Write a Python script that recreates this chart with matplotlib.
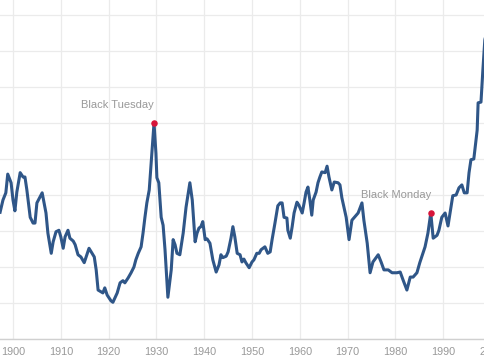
import matplotlib
matplotlib.use('Agg')
import matplotlib.pyplot as plt

# Shiller-style P/E ratio
years = [
    1897.3, 1897.9, 1898.5, 1898.9, 1899.6, 1900.0, 1900.4, 1900.8, 1901.5, 1902.1,
    1902.5, 1902.9, 1903.6, 1904.2, 1904.6, 1905.0, 1906.1, 1906.5, 1906.9, 1907.3,
    1908.0, 1908.4, 1909.0, 1909.6, 1910.0, 1910.5, 1910.9, 1911.5, 1911.9, 1912.6,
    1913.0, 1913.6, 1914.2, 1914.9, 1915.9, 1917.0, 1917.4, 1917.8, 1918.8, 1919.2,
    1919.7, 1920.5, 1920.9, 1921.8, 1922.4, 1923.0, 1923.4, 1924.1, 1924.7, 1925.3,
    1925.7, 1926.2, 1926.8, 1927.2, 1927.6, 1928.0, 1928.5, 1929.1, 1929.5, 1929.9,
    1930.1, 1930.5, 1931.0, 1931.4, 1931.8, 1932.4, 1933.1, 1933.5, 1933.9, 1934.3,
    1934.9, 1935.6, 1936.2, 1937.0, 1937.5, 1938.1, 1938.5, 1938.9, 1939.3, 1939.7,
    1940.2, 1940.6, 1941.2, 1941.8, 1942.5, 1943.1, 1943.5, 1943.9, 1944.6, 1945.0,
    1945.6, 1946.0, 1946.4, 1946.9, 1947.5, 1947.9, 1948.3, 1948.7, 1949.4, 1950.0,
    1950.4, 1951.0, 1951.5, 1951.9, 1952.3, 1952.7, 1953.3, 1953.8, 1954.2, 1954.8,
    1955.4, 1955.9, 1956.3, 1956.7, 1957.3, 1957.5, 1958.0, 1958.4, 1958.8, 1959.4,
    1959.8, 1960.5, 1960.9, 1961.3, 1961.7, 1962.1, 1962.5, 1962.8, 1963.4, 1963.8,
    1964.2, 1964.6, 1965.3, 1965.7, 1966.1, 1966.7, 1967.2, 1968.0, 1968.4, 1968.8,
    1969.7, 1970.3, 1970.9, 1971.8, 1972.2, 1973.0, 1973.4, 1974.1, 1974.7, 1975.3,
    1976.4, 1977.0, 1977.6, 1978.5, 1979.3, 1980.3, 1981.0, 1981.6, 1982.4, 1983.1,
    1983.7, 1984.5, 1985.1, 1986.2, 1986.8, 1987.4, 1987.9, 1988.7, 1989.1, 1989.7,
    1990.4, 1991.0, 1991.6, 1992.0, 1992.7, 1993.3, 1993.9, 1994.4, 1995.0, 1995.4,
    1995.8, 1996.4, 1997.1, 1997.3, 1997.9, 1998.3, 1998.7, 1999.5,
]
pe_ratio = [
    17.6, 19.3, 20.3, 22.9, 21.7, 19.3, 17.8, 20.4, 23.1, 22.5,
    22.5, 20.7, 16.9, 16.1, 16.1, 18.9, 20.3, 18.9, 17.5, 14.7,
    11.9, 13.5, 14.9, 15.1, 14.2, 12.6, 14.2, 15.1, 14.0, 13.6,
    13.1, 11.7, 11.4, 10.6, 12.6, 11.4, 9.6, 6.8, 6.4, 7.1,
    6.1, 5.3, 5.1, 6.4, 7.8, 8.1, 7.8, 8.5, 9.2, 10.0,
    11.0, 11.9, 12.8, 14.7, 16.9, 18.9, 20.7, 26.3, 30.0, 25.8,
    22.4, 21.7, 16.9, 15.8, 12.4, 5.8, 9.6, 13.8, 13.1, 11.9,
    11.7, 14.7, 18.3, 21.7, 19.3, 13.5, 14.7, 15.4, 15.6, 16.3,
    13.8, 13.9, 13.3, 11.0, 9.3, 10.3, 11.7, 11.3, 11.5, 12.1,
    14.0, 15.6, 14.2, 11.9, 11.7, 10.7, 11.1, 10.6, 9.9, 10.7,
    11.0, 11.9, 11.9, 12.4, 12.6, 12.8, 11.9, 12.1, 13.8, 16.1,
    18.5, 18.9, 18.9, 16.9, 16.8, 15.1, 14.0, 15.6, 17.5, 19.0,
    18.6, 17.5, 18.9, 20.4, 21.1, 19.3, 17.2, 19.3, 20.4, 21.7,
    22.5, 23.2, 23.1, 24.0, 22.5, 20.7, 21.8, 21.7, 21.4, 19.6,
    16.9, 13.8, 16.5, 17.2, 17.5, 18.9, 16.5, 13.3, 9.2, 10.7,
    11.7, 10.7, 9.6, 9.6, 9.2, 9.2, 9.3, 8.2, 6.8, 8.6,
    8.6, 9.2, 10.6, 12.8, 14.7, 17.5, 14.0, 14.4, 15.1, 16.9,
    17.5, 15.7, 18.2, 19.9, 20.0, 21.0, 21.4, 20.3, 20.3, 23.1,
    24.9, 25.0, 29.0, 32.8, 32.9, 37.4, 41.5, 44.2,
]

events = ['Black Tuesday', 'Black Monday']
event_years = [1929.5, 1987.4]
event_values = [30.0, 17.5]

x_ticks = [1900, 1910, 1920, 1930, 1940, 1950, 1960, 1970, 1980, 1990, 2000]
y_grid = [0, 5, 10, 15, 20, 25, 30, 35, 40, 45]

line_color = '#2f5688'
dot_color = '#d7143a'
label_color = '#999999'

plt.rcParams['font.family'] = ['Liberation Sans', 'DejaVu Sans']

fig = plt.figure(figsize=(4.85, 3.6), dpi=100)
# the reference is a crop of a wider chart, so the axes run past the right edge
x_left, x_right_visible, x_right = 1897.28, 1998.74, 2003.0
ax_w = (x_right - x_left) / (x_right_visible - x_left)
ax = fig.add_axes([0, 21 / 360, ax_w, 339 / 360])
ax.set_xlim(x_left, x_right)
ax.set_ylim(0, 47.08)

ax.plot(years, pe_ratio, color=line_color, linewidth=2.2, solid_joinstyle='round',
        zorder=3)
ax.scatter(event_years, event_values, s=22, color=dot_color, zorder=4, linewidths=0)
for name, ex, ev in zip(events, event_years, event_values):
    ax.annotate(name, (ex, ev), xytext=(0, 9), textcoords='offset points',
                ha='right', va='bottom', fontsize=8, color=label_color)

ax.set_xticks(x_ticks)
ax.set_yticks(y_grid)
ax.set_yticklabels([])
ax.grid(True, color='#ebebeb', linewidth=0.9)
ax.set_axisbelow(True)
for side in ['top', 'right', 'left']:
    ax.spines[side].set_visible(False)
ax.spines['bottom'].set_color('#d0d0d0')
ax.spines['bottom'].set_linewidth(1.0)
ax.tick_params(axis='x', length=0, pad=6, labelsize=7.8, labelcolor=label_color)
ax.tick_params(axis='y', length=0)

fig.savefig('out.png', dpi=100)
